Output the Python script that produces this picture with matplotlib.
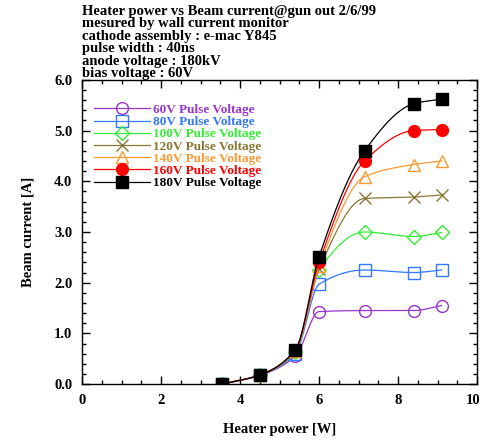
import numpy as np
import matplotlib
matplotlib.use("Agg")
import matplotlib.pyplot as plt
from matplotlib.ticker import MultipleLocator, FormatStrFormatter, FuncFormatter

# heater power [W] and beam current [A] per pulse voltage
heater_power = [3.55, 4.5, 5.4, 6.0, 7.15, 8.4, 9.1]
labels = ["60V Pulse Voltage", "80V Pulse Voltage", "100V Pulse Voltage",
          "120V Pulse Voltage", "140V Pulse Voltage", "160V Pulse Voltage",
          "180V Pulse Voltage"]
i_60v = [0.0, 0.17, 0.55, 1.43, 1.45, 1.45, 1.55]
i_80v = [0.0, 0.17, 0.60, 1.97, 2.25, 2.20, 2.25]
i_100v = [0.0, 0.18, 0.63, 2.25, 3.00, 2.91, 2.99]
i_120v = [0.0, 0.18, 0.65, 2.27, 3.66, 3.69, 3.73]
i_140v = [0.0, 0.18, 0.66, 2.32, 4.09, 4.33, 4.40]
i_160v = [0.0, 0.18, 0.67, 2.40, 4.40, 5.00, 5.02]
i_180v = [0.0, 0.18, 0.68, 2.51, 4.60, 5.53, 5.62]

series = [i_60v, i_80v, i_100v, i_120v, i_140v, i_160v, i_180v]
colors = ["#9933cc", "#3377ff", "#33ee33", "#887733", "#ff9933", "#ff0000", "#000000"]
markers = ["o", "s", "D", "x", "^", "o", "s"]
filled = [False, False, False, False, False, True, True]


def smooth(x, y, n=200):
    # monotone cubic (pchip) curve through the points, like the smoothed plot
    x = np.asarray(x, float)
    y = np.asarray(y, float)
    h = np.diff(x)
    d = np.diff(y) / h
    m = np.zeros_like(y)
    for k in range(1, len(x) - 1):
        if d[k - 1] * d[k] > 0:
            w1 = 2 * h[k] + h[k - 1]
            w2 = h[k] + 2 * h[k - 1]
            m[k] = (w1 + w2) / (w1 / d[k - 1] + w2 / d[k])
    m[0] = d[0]
    m[-1] = d[-1]
    xs = np.linspace(x[0], x[-1], n)
    idx = np.clip(np.searchsorted(x, xs) - 1, 0, len(x) - 2)
    t = (xs - x[idx]) / h[idx]
    h00 = 2 * t**3 - 3 * t**2 + 1
    h10 = t**3 - 2 * t**2 + t
    h01 = -2 * t**3 + 3 * t**2
    h11 = t**3 - t**2
    ys = h00 * y[idx] + h10 * h[idx] * m[idx] + h01 * y[idx + 1] + h11 * h[idx] * m[idx + 1]
    return xs, ys


plt.rcParams["font.family"] = ["Liberation Serif", "DejaVu Serif"]
plt.rcParams["font.weight"] = "bold"

fig = plt.figure(figsize=(4.8, 4.41), dpi=100)
ax = fig.add_axes([0.171, 0.129, 0.823, 0.690])

for y, c, mk, f, lab in zip(series, colors, markers, filled, labels):
    ms = 7.5 if mk == "D" else 8.5
    xs, ys = smooth(heater_power, y)
    ax.plot(xs, ys, color=c, lw=0.9)
    ax.plot(heater_power, y, linestyle="none", marker=mk, ms=ms,
            mfc=c if f else "none", mec=c, mew=1.0, color=c)
    ax.plot([], [], color=c, lw=0.9, marker=mk, ms=ms,
            mfc=c if f else "none", mec=c, mew=1.0, label=lab)

x_max = 10
ax.set_xlim(0, x_max)
ax.set_ylim(0, 6)
ax.xaxis.set_major_locator(MultipleLocator(2))
ax.xaxis.set_minor_locator(MultipleLocator(0.5))
# last x label is drawn separately so it stays inside the picture
ax.xaxis.set_major_formatter(FuncFormatter(lambda v, p: "" if v >= x_max else f"{v:g}"))
ax.yaxis.set_major_locator(MultipleLocator(1))
ax.yaxis.set_minor_locator(MultipleLocator(0.2))
ax.yaxis.set_major_formatter(FormatStrFormatter("%.1f"))
ax.tick_params(which="both", direction="in", top=True, right=True, labelsize=10.5, width=1)
ax.tick_params(which="major", length=6, pad=7)
ax.tick_params(which="minor", length=3)
for s in ax.spines.values():
    s.set_linewidth(1)
ax.annotate(f"{x_max:g}", xy=(x_max, 0), xycoords=("data", "axes fraction"),
            xytext=(2.2, -7), textcoords="offset points", ha="right", va="top",
            fontsize=10.5, fontweight="bold")

ax.set_xlabel("Heater power [W]", fontsize=10.5, fontweight="bold", labelpad=12)
ax.set_ylabel("Beam current [A]", fontsize=10.5, fontweight="bold", labelpad=14)

leg = ax.legend(loc="upper left", bbox_to_anchor=(0.008, 0.952), frameon=False,
                fontsize=9.5, handlelength=4.2, labelspacing=0.0, handletextpad=0.2,
                labelcolor="linecolor", borderpad=0.2)
for t in leg.get_texts():
    t.set_fontweight("bold")

title = ("Heater power vs Beam current@gun out 2/6/99\n"
         "mesured by wall current monitor\n"
         "cathode assembly : e-mac Y845\n"
         "pulse width : 40ns\n"
         "anode voltage : 180kV\n"
         "bias voltage : 60V")
fig.text(0.171, 0.989, title, ha="left", va="top", fontsize=10.5,
         fontweight="bold", linespacing=0.95)

fig.savefig("out.png", dpi=100)
